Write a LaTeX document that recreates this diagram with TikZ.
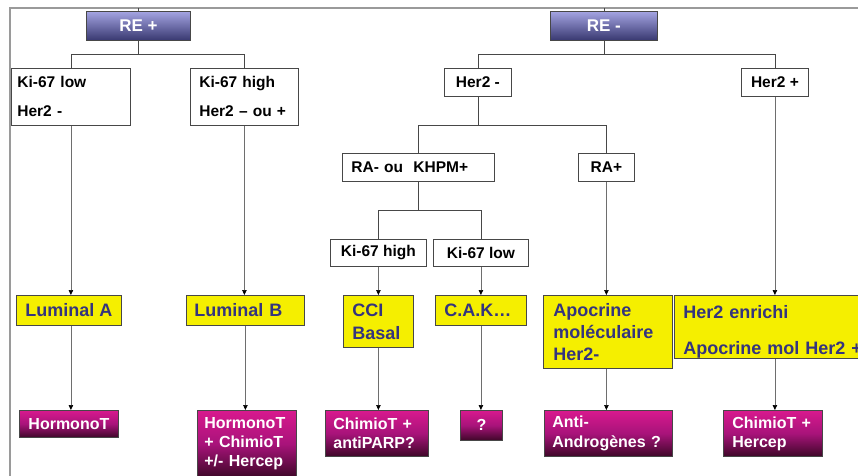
\documentclass[tikz,border=0pt]{standalone}
\usepackage{fontspec}
\setmainfont{Liberation Sans}
\usetikzlibrary{arrows.meta}
\definecolor{framecol}{HTML}{9A9A9A}
\definecolor{reTop}{HTML}{A4A4E2}
\definecolor{reBot}{HTML}{383870}
\definecolor{magTop}{HTML}{D8198E}
\definecolor{magMid}{HTML}{A8137A}
\definecolor{magBot}{HTML}{3E0728}
\definecolor{yel}{HTML}{F5EF00}
\definecolor{yelText}{HTML}{34347E}
\definecolor{edgecol}{HTML}{474747}
\definecolor{arrowline}{HTML}{6E6E6E}
\begin{document}
\begin{tikzpicture}[x=1pt,y=-1pt,
  base/.style={anchor=north west, inner ysep=0pt, line width=0.8pt, draw=edgecol},
  rebox/.style={base, top color=reTop, bottom color=reBot, text=white, font=\bfseries\fontsize{17}{20}\selectfont},
  lbl/.style={base, fill=white, text=black, font=\bfseries\fontsize{15.5}{29}\selectfont},
  ybox/.style={base, fill=yel, text=yelText},
  mbox/.style={base, top color=magTop, bottom color=magBot, middle color=magMid, text=white, font=\bfseries\fontsize{16}{19}\selectfont},
  bus/.style={draw=edgecol, line width=0.8pt},
  arr/.style={draw=arrowline, line width=0.7pt, -{Triangle[length=5pt,width=4.5pt,color=black]}},
]
\useasboundingbox (0,0) rectangle (858,475);
\clip (0,0) rectangle (858,475);
\draw[framecol, line width=1.2pt] (10,476) -- (10,8) -- (859,8);

% top level
\node[rebox, minimum width=104pt, minimum height=29pt] (re1) at (86,11) {RE +};
\node[rebox, minimum width=107pt, minimum height=29pt] (re2) at (550,11) {RE -};

% white label boxes
\node[lbl, minimum width=119pt, minimum height=57pt, inner xsep=6pt, text width=107pt, align=left] (k1) at (11,68) {Ki-67 low\\Her2 -};
\node[lbl, minimum width=108pt, minimum height=57pt, inner xsep=9pt, text width=90pt, align=left] (k2) at (190,68) {Ki-67 high\\Her2 – ou +};
\node[lbl, minimum width=67pt, minimum height=28pt] (her2m) at (444,68) {Her2 -};
\node[lbl, minimum width=67pt, minimum height=28pt] (her2p) at (741,68) {Her2 +};
\node[lbl, minimum width=152pt, minimum height=28pt, inner xsep=9pt, text width=134pt, align=left] (ram) at (342,153) {RA- ou~ KHPM+};
\node[lbl, minimum width=56pt, minimum height=28pt] (rap) at (578,153) {RA+};
\node[lbl, minimum width=96pt, minimum height=27pt] (ki3) at (330,239) {Ki-67 high};
\node[lbl, minimum width=95pt, minimum height=27pt] (ki4) at (433,239) {Ki-67 low};

% yellow boxes
\node[ybox, font=\bfseries\fontsize{18}{22}\selectfont, minimum width=105pt, minimum height=30pt] (lumA) at (16,295) {Luminal A};
\node[ybox, font=\bfseries\fontsize{18}{22}\selectfont, minimum width=118pt, minimum height=30pt, inner xsep=8pt, text width=102pt, align=left] (lumB) at (186,295) {Luminal B};
\node[ybox, font=\bfseries\fontsize{18}{23}\selectfont, minimum width=70pt, minimum height=52pt, inner xsep=9pt, text width=52pt, align=left] (cci) at (343,295) {CCI\\Basal};
\node[ybox, font=\bfseries\fontsize{18}{22}\selectfont, minimum width=91pt, minimum height=30pt, inner xsep=9pt, text width=73pt, align=left] (cak) at (435,295) {C.A.K…};
\node[ybox, font=\bfseries\fontsize{18}{22}\selectfont, minimum width=129pt, minimum height=73pt, inner xsep=10pt, text width=109pt, align=left] (apo) at (543,295) {Apocrine\\moléculaire\\Her2-};
\node[ybox, font=\bfseries\fontsize{18}{36}\selectfont, minimum width=206pt, minimum height=63pt, inner xsep=9pt, text width=188pt, align=left] (enr) at (674,295) {\rule{0pt}{22pt}Her2 enrichi\\Apocrine mol Her2 +};

% magenta boxes
\node[mbox, minimum width=99pt, minimum height=27pt] (m1) at (19,410) {HormonoT};
\node[mbox, minimum width=99pt, minimum height=67pt, inner xsep=7pt, text width=85pt, align=left] (m2) at (197,410) {HormonoT\\+ ChimioT\\+/- Hercep};
\node[mbox, minimum width=103pt, minimum height=46pt, inner xsep=8pt, text width=87pt, align=left] (m3) at (325,410) {ChimioT +\\antiPARP?};
\node[mbox, minimum width=42pt, minimum height=30pt] (m4) at (460,410) {?};
\node[mbox, font=\bfseries\fontsize{16}{20}\selectfont, minimum width=128pt, minimum height=46pt, inner xsep=8pt, text width=112pt, align=left] (m5) at (544,410) {Anti-\\Androgènes ?};
\node[mbox, minimum width=99pt, minimum height=46pt, inner xsep=9pt, text width=81pt, align=left] (m6) at (723,410) {ChimioT +\\Hercep};

% ticks to frame
\draw[bus] (re1.north) -- ++(0,-3);
\draw[bus] (re2.north) -- ++(0,-3);

% bus connectors
\draw[bus] (re1.south) -- ++(0,14) coordinate (b1);
\draw[bus] (k1.north) |- (b1) -| (k2.north);
\draw[bus] (re2.south) -- ++(0,14) coordinate (b2);
\draw[bus] (her2m.north) |- (b2) -| (her2p.north);
\draw[bus] (her2m.south) -- ++(0,29) coordinate (b3);
\draw[bus] (ram.north) |- (b3) -| (rap.north);
\draw[bus] (ram.south) -- ++(0,29) coordinate (b4);
\draw[bus] (ki3.north) |- (b4) -| (ki4.north);

% arrows
\draw[arr] (k1.south) -- (k1.south |- lumA.north);
\draw[arr] (k2.south) -- (k2.south |- lumB.north);
\draw[arr] (ki3.south) -- (ki3.south |- cci.north);
\draw[arr] (ki4.south) -- (ki4.south |- cak.north);
\draw[arr] (rap.south) -- (rap.south |- apo.north);
\draw[arr] (her2p.south) -- (her2p.south |- enr.north);

\draw[arr] (k1.south |- lumA.south) -- (k1.south |- m1.north);
\draw[arr] (lumB.south) -- (lumB.south |- m2.north);
\draw[arr] (cci.south) -- (cci.south |- m3.north);
\draw[arr] (cak.south) -- (cak.south |- m4.north);
\draw[arr] (rap.south |- apo.south) -- (rap.south |- m5.north);
\draw[arr] (her2p.south |- enr.south) -- (her2p.south |- m6.north);
\end{tikzpicture}
\end{document}
